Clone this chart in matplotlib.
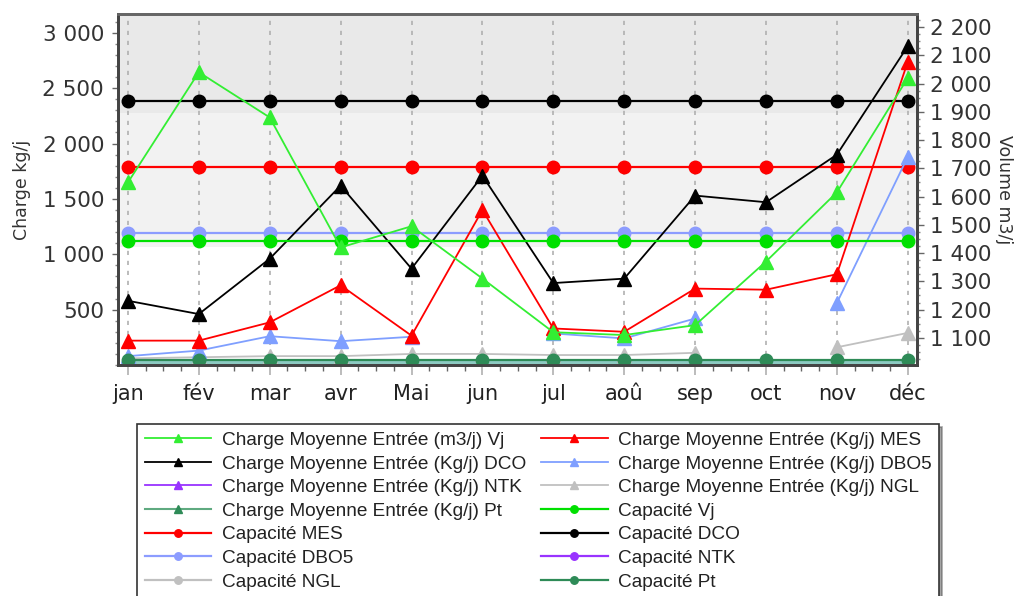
import numpy as np
import matplotlib
matplotlib.use("Agg")
import matplotlib.pyplot as plt
from matplotlib.ticker import FuncFormatter, MultipleLocator

# donnees
mois = ['jan', 'fév', 'mar', 'avr', 'Mai', 'jun', 'jul', 'aoû', 'sep', 'oct', 'nov', 'déc']

# axe de droite (m3/j)
charge_vj = [1650, 2040, 1880, 1420, 1495, 1310, 1120, 1110, 1145, 1370, 1615, 2020]
capacite_vj = [1443] * 12

# axe de gauche (kg/j)
charge_mes = [220, 220, 385, 720, 265, 1400, 330, 300, 690, 680, 820, 2740]
charge_dco = [580, 460, 960, 1620, 870, 1710, 740, 780, 1530, 1470, 1900, 2880]
charge_dbo5 = [80, 130, 260, 215, 255, np.nan, 285, 240, 420, np.nan, 560, 1880]
charge_ntk = [np.nan] * 12
charge_ngl = [60, 70, 80, 80, 100, 100, 90, 90, 110, np.nan, 160, 290]
charge_pt = [25] * 12

capacite_mes = [1790] * 12
capacite_dco = [2385] * 12
capacite_dbo5 = [1190] * 12
capacite_ntk = [np.nan] * 12
capacite_ngl = [np.nan] * 12
capacite_pt = [45] * 12

x = np.arange(len(mois))


def sep_milliers(v, pos):
    s = "{:,.0f}".format(v)
    return s.replace(",", " ")


fig = plt.figure(figsize=(10.25, 5.96), dpi=100)
ax = fig.add_axes([118/1025, 1-365/596, (917-118)/1025, (365-14)/596])
ax2 = ax.twinx()

ax.set_xlim(-0.14, 11.13)
ax.set_ylim(0, 3170)
ax2.set_ylim(1004, 2246)

# bandes de fond
ax.axhspan(2275, 3170, color='#e9e9e9', zorder=0, lw=0)
ax.axhspan(1065, 2275, color='#f2f2f2', zorder=0, lw=0)

for xi in x:
    ax.axvline(xi, color='#b0b0b0', lw=1.2, ls=(0, (2.5, 3.5)), zorder=0.5)

tri = dict(marker='^', markersize=10.5)
rond = dict(marker='o', markersize=9)

h = {}
h['pt'], = ax.plot(x, charge_pt, color='#8ccac2', lw=3, zorder=1, **tri,
                   markerfacecolor='#2e8b57', markeredgecolor='#2e8b57')
h['ngl'], = ax.plot(x, charge_ngl, color='#c0c0c0', lw=1.3, **tri)
h['ntk'], = ax.plot(x, charge_ntk, color='#9933ff', lw=1.3, **tri)
h['c_ntk'], = ax.plot(x, capacite_ntk, color='#9933ff', lw=1.6, **rond)
h['c_ngl'], = ax.plot(x, capacite_ngl, color='#c0c0c0', lw=1.6, **rond)
h['c_pt'], = ax.plot(x, capacite_pt, color='#2e8b57', lw=1.6, zorder=3, **rond)
h['c_dbo5'], = ax.plot(x, capacite_dbo5, color='#8c9cff', lw=1.6, **rond)
h['c_mes'], = ax.plot(x, capacite_mes, color='#ff0000', lw=1.6, **rond)
h['c_dco'], = ax.plot(x, capacite_dco, color='#000000', lw=1.6, **rond)
h['dbo5'], = ax.plot(x, charge_dbo5, color='#7f9fff', lw=1.3, **tri)
h['mes'], = ax.plot(x, charge_mes, color='#ff0000', lw=1.3, **tri)
h['dco'], = ax.plot(x, charge_dco, color='#000000', lw=1.3, **tri)

h['c_vj'], = ax2.plot(x, capacite_vj, color='#00e000', lw=1.6, **rond)
h['vj'], = ax2.plot(x, charge_vj, color='#33ee33', lw=1.3, **tri)

# axes
for a in (ax, ax2):
    for s in a.spines.values():
        s.set_color('#444444')
        s.set_linewidth(2)
    a.spines['top'].set_color('#666666')

ax.set_xticks(x)
ax.set_xticklabels(mois)
ax.xaxis.set_minor_locator(MultipleLocator(0.25))
ax.tick_params(axis='x', which='major', length=7, width=1.2, color='#b0b0b0',
               labelsize=15, labelcolor='#222222', pad=7)
ax.tick_params(axis='x', which='minor', length=4, width=1, color='#666666')

ax.set_yticks([500, 1000, 1500, 2000, 2500, 3000])
ax.yaxis.set_minor_locator(MultipleLocator(100))
ax.yaxis.set_major_formatter(FuncFormatter(sep_milliers))
ax.tick_params(axis='y', which='major', length=4, width=1, color='#666666',
               labelsize=15.5, labelcolor='#333333', pad=6)
ax.tick_params(axis='y', which='minor', length=2.5, width=1, color='#888888')

ax2.set_yticks(np.arange(1100, 2201, 100))
ax2.yaxis.set_minor_locator(MultipleLocator(25))
ax2.yaxis.set_major_formatter(FuncFormatter(sep_milliers))
ax2.tick_params(axis='y', which='major', length=5, width=1, color='#666666',
                labelsize=15.5, labelcolor='#333333', pad=4)
ax2.tick_params(axis='y', which='minor', length=2.5, width=1, color='#888888')

ax.set_ylabel('Charge kg/j', fontsize=12.5, color='#333333', labelpad=8)
ax2.set_ylabel('Volume m3/j', fontsize=12.5, color='#333333', rotation=-90, labelpad=16)

# legende
ordre = ['vj', 'dco', 'ntk', 'pt', 'c_mes', 'c_dbo5', 'c_ngl',
         'mes', 'dbo5', 'ngl', 'c_vj', 'c_dco', 'c_ntk', 'c_pt']
noms = {
    'vj': 'Charge Moyenne Entrée (m3/j) Vj',
    'dco': 'Charge Moyenne Entrée (Kg/j) DCO',
    'ntk': 'Charge Moyenne Entrée (Kg/j) NTK',
    'pt': 'Charge Moyenne Entrée (Kg/j) Pt',
    'c_mes': 'Capacité MES',
    'c_dbo5': 'Capacité DBO5',
    'c_ngl': 'Capacité NGL',
    'mes': 'Charge Moyenne Entrée (Kg/j) MES',
    'dbo5': 'Charge Moyenne Entrée (Kg/j) DBO5',
    'ngl': 'Charge Moyenne Entrée (Kg/j) NGL',
    'c_vj': 'Capacité Vj',
    'c_dco': 'Capacité DCO',
    'c_ntk': 'Capacité NTK',
    'c_pt': 'Capacité Pt',
}
leg = fig.legend([h[k] for k in ordre], [noms[k] for k in ordre],
                 loc='upper left', bbox_to_anchor=(137/1025, 1-424/596),
                 ncol=2, frameon=True, fancybox=False, shadow=True,
                 borderaxespad=0, borderpad=0.4, labelspacing=0.33,
                 handlelength=3.5, handletextpad=0.55, columnspacing=0.8,
                 markerscale=0.6,
                 prop={'family': 'Liberation Sans', 'size': 13.7})
leg.get_frame().set_edgecolor('#333333')
leg.get_frame().set_linewidth(1.2)
for t in leg.get_texts():
    t.set_color('#222222')
for l in leg.get_lines():
    if l.get_color() == '#8ccac2':
        l.set_linewidth(1.5)
        l.set_color('#5faa80')

fig.savefig('out.png', dpi=100)
